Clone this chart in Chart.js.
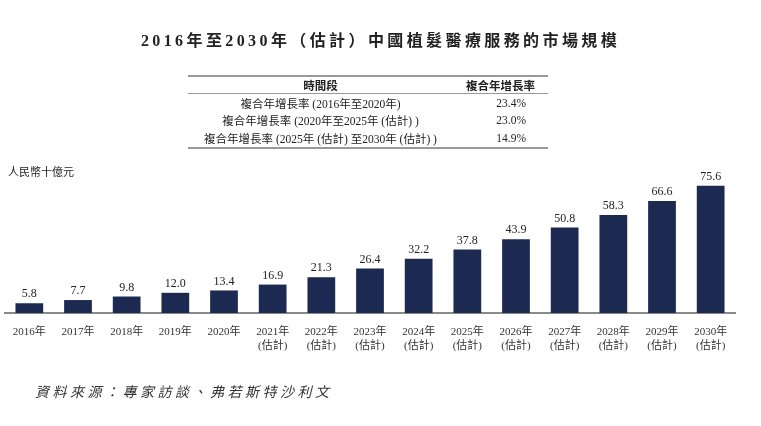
<!DOCTYPE html>
<html>
<head>
<meta charset="utf-8">
<script src="https://cdn.jsdelivr.net/npm/chart.js@4.4.1/dist/chart.umd.min.js"></script>
<style>
  body { margin: 0; background: #fff; }
  #wrap { position: relative; width: 761px; height: 426px; overflow: hidden; }
  #chart { position: absolute; left: 0; top: 0; }
  .serif { font-family: 'Liberation Serif', 'Noto Sans CJK TC', serif; color: #222; }
  #title { position: absolute; left: 0; width: 761px; top: 27px; text-align: center;
    font-size: 16px; font-weight: bold; letter-spacing: 3.4px; }
  #unit { position: absolute; left: 8px; top: 163px; font-size: 11px; }
  #source { position: absolute; left: 35px; top: 381px; font-size: 14px; font-style: italic;
    letter-spacing: 3.5px; color: #333; }
  table { position: absolute; left: 188px; top: 75px; width: 360px; border-collapse: collapse;
    border-top: 2px solid #999; border-bottom: 2px solid #999; font-size: 11.5px; }
  th { font-family: 'Noto Sans CJK TC', sans-serif; font-weight: bold; height: 16px; padding: 0;
    border-bottom: 1px solid #999; font-size: 11.5px; }
  td { height: 17.5px; padding: 0; }
  td.c1, th.c1 { text-align: center; width: 265px; }
  td.c2 { text-align: right; padding-right: 22px; }
  th.c2 { text-align: center; }
</style>
</head>
<body>
<div id="wrap">
  <canvas id="chart" width="761" height="426"></canvas>
  <div id="title" class="serif">2016年至2030年（估計）中國植髮醫療服務的市場規模</div>
  <table class="serif">
    <tr><th class="c1">時間段</th><th class="c2">複合年增長率</th></tr>
    <tr><td class="c1">複合年增長率 (2016年至2020年)</td><td class="c2">23.4%</td></tr>
    <tr><td class="c1">複合年增長率 (2020年至2025年 (估計) )</td><td class="c2">23.0%</td></tr>
    <tr><td class="c1">複合年增長率 (2025年 (估計) 至2030年 (估計) )</td><td class="c2">14.9%</td></tr>
  </table>
  <div id="unit" class="serif">人民幣十億元</div>
  <div id="source" class="serif">資料來源：專家訪談、弗若斯特沙利文</div>
</div>
<script>
const years = ['2016', '2017', '2018', '2019', '2020', '2021', '2022', '2023',
  '2024', '2025', '2026', '2027', '2028', '2029', '2030']
const estimated = [false, false, false, false, false, true, true, true,
  true, true, true, true, true, true, true]
const marketSize = [5.8, 7.7, 9.8, 12.0, 13.4, 16.9, 21.3, 26.4,
  32.2, 37.8, 43.9, 50.8, 58.3, 66.6, 75.6]

const labels = years.map((y, i) => estimated[i] ? [y + '年', '(估計)'] : y + '年')
const FONT = "'Liberation Serif', 'Noto Sans CJK TC', serif"

// value labels above each bar
const valueLabels = {
  id: 'valueLabels',
  afterDatasetsDraw(chart) {
    const ctx = chart.ctx
    const meta = chart.getDatasetMeta(0)
    ctx.save()
    ctx.font = '12px ' + FONT
    ctx.fillStyle = '#222'
    ctx.textAlign = 'center'
    ctx.textBaseline = 'bottom'
    meta.data.forEach((bar, i) => {
      ctx.fillText(marketSize[i].toFixed(1), bar.x, bar.y - 3)
    })
    ctx.restore()
  }
}

new Chart(document.getElementById('chart'), {
  type: 'bar',
  data: {
    labels: labels,
    datasets: [{
      data: marketSize,
      backgroundColor: '#1c2a52',
      borderWidth: 0,
      barPercentage: 0.57,
      categoryPercentage: 1
    }]
  },
  options: {
    responsive: false,
    animation: false,
    layout: { padding: { left: 5, right: 26, top: 170, bottom: 53 } },
    plugins: { legend: { display: false }, tooltip: { enabled: false } },
    scales: {
      x: {
        grid: { display: false },
        border: { display: true, color: '#8a8a8a', width: 2 },
        ticks: {
          padding: 5,
          color: '#333',
          maxRotation: 0,
          autoSkip: false,
          font: { family: FONT, size: 11, lineHeight: 1.2 }
        },
        afterFit(scale) { scale.height = 60 }
      },
      y: {
        display: false,
        min: 0,
        max: 85
      }
    }
  },
  plugins: [valueLabels]
})
</script>
</body>
</html>
